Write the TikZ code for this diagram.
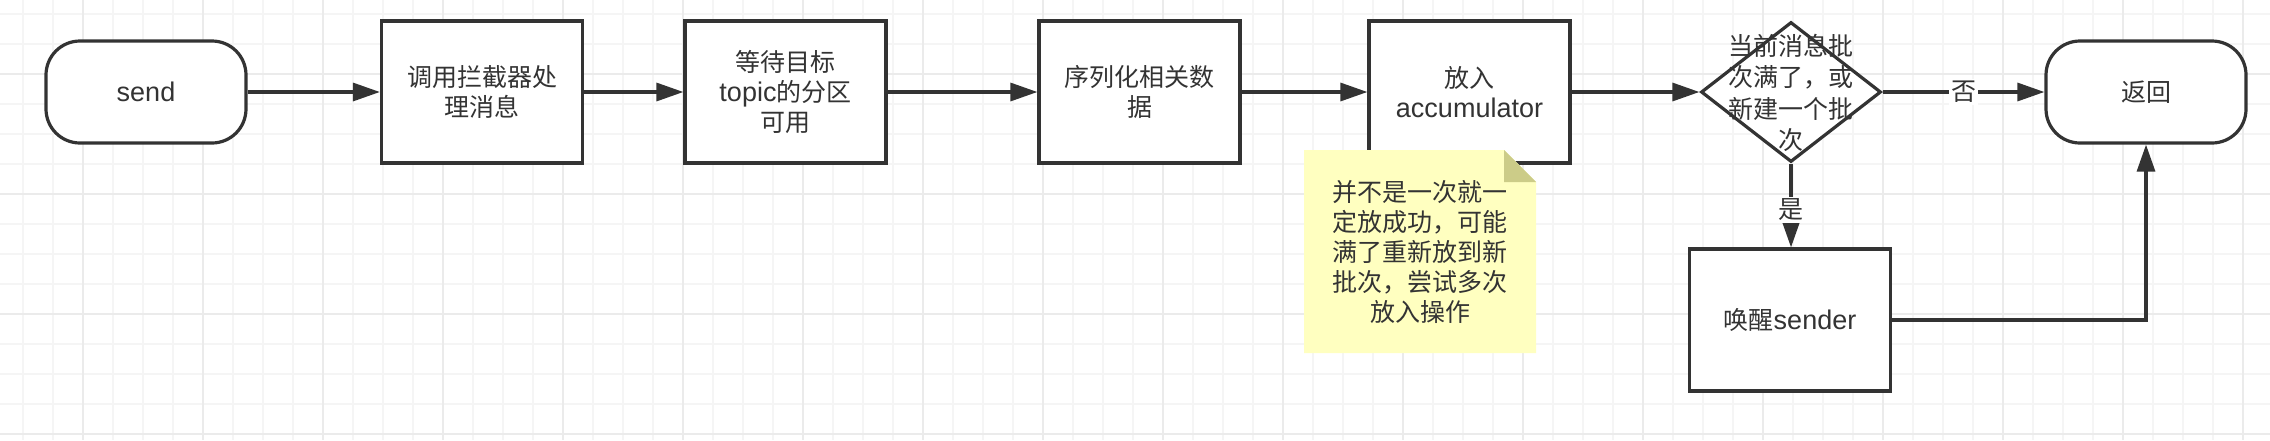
\documentclass[tikz,border=0pt]{standalone}
\usepackage{fontspec}
\setmainfont{Liberation Sans}
\newfontfamily\cjk{Noto Sans CJK SC}
\newfontfamily\lat{Liberation Sans}[Scale=1.08]
\usetikzlibrary{arrows.meta,shapes.geometric}
\definecolor{ink}{HTML}{333333}
\definecolor{gridminor}{HTML}{F5F5F5}
\definecolor{gridmajor}{HTML}{EBEBEB}
\definecolor{notefill}{HTML}{FFFFC0}
\definecolor{notefold}{HTML}{CCCC88}
\begin{document}
\begin{tikzpicture}[x=1pt,y=-1pt,
  txt/.style={font=\cjk\fontsize{25}{30}\selectfont, text=ink, align=center},
  stepbox/.style={txt, draw=ink, line width=3.2pt, fill=white, minimum width=201pt, minimum height=142pt, inner sep=0pt},
  term/.style={txt, draw=ink, line width=3.2pt, fill=white, rounded corners=34pt, minimum width=200pt, minimum height=102pt, inner sep=0pt},
  decision/.style={diamond, draw=ink, line width=3.2pt, fill=white, minimum width=180pt, minimum height=140pt, inner sep=0pt},
  conn/.style={draw=ink, line width=3.2pt, -{Triangle[length=27pt,width=18pt]}},
  lbl/.style={txt, fill=white, inner sep=2pt},
]
\useasboundingbox (0,0) rectangle (2270,440);
\fill[white] (0,0) rectangle (2270,440);
% grid
\begin{scope}[line width=1.5pt]
\foreach \x in {23,53,...,2270} \draw[gridminor] (\x,0) -- (\x,440);
\foreach \y in {14,44,...,440} \draw[gridminor] (0,\y) -- (2270,\y);
\foreach \x in {83,203,...,2270} \draw[gridmajor] (\x,0) -- (\x,440);
\foreach \y in {74,194,...,440} \draw[gridmajor] (0,\y) -- (2270,\y);
\end{scope}
% nodes
\node[term] (send) at (146,92) {\lat send};
\node[stepbox] (b1) at (482,92) {调用拦截器处\\理消息};
\node[stepbox] (b2) at (785.5,92) {等待目标\\{\lat topic}的分区\\可用};
\node[stepbox] (b3) at (1139.5,92) {序列化相关数\\据};
\node[stepbox] (b4) at (1469.5,92) {放入\\{\lat accumulator}};
\node[decision, label={[txt, font=\cjk\fontsize{25}{31.5}\selectfont, text depth=0pt]center:当前消息批\\次满了，或\\新建一个批\\次}] (dec) at (1791,92) {};
\node[term] (ret) at (2146,92) {返回};
\node[stepbox] (wake) at (1790,320) {唤醒{\lat sender}};
% note
\fill[notefill] (1304,150) -- (1504,150) -- (1536,182) -- (1536,353) -- (1304,353) -- cycle;
\fill[notefold] (1504,150) -- (1504,182) -- (1536,182) -- cycle;
\node[txt] (note) at (1420,252) {并不是一次就一\\定放成功，可能\\满了重新放到新\\批次，尝试多次\\放入操作};
% connectors
\draw[conn] (send) -- (b1);
\draw[conn] (b1) -- (b2);
\draw[conn] (b2) -- (b3);
\draw[conn] (b3) -- (b4);
\draw[conn] (b4) -- (dec);
\draw[conn] (dec) -- node[lbl] {否} (ret);
\draw[conn] (dec.south) -- node[lbl, pos=0.55] {是} (dec.south |- wake.north);
\draw[conn] (wake.east) -| (ret.south);
\end{tikzpicture}
\end{document}
